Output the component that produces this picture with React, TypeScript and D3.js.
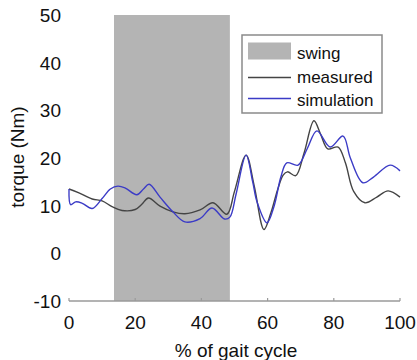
import React from "react";
import * as d3 from "d3";

const xTicks = [0, 20, 40, 60, 80, 100];
const yTicks = [-10, 0, 10, 20, 30, 40, 50];
const swingRange = [13.6, 48.6];

const measuredX = [0, 3, 7, 10, 13, 16, 20, 22, 24, 27.5, 31.4, 35, 39.6, 43.5, 47.7, 50, 53.5, 56, 58.9, 61, 63, 64.7, 66, 68.5, 71, 74, 76, 78.2, 81.3, 83.5, 86, 89.4, 93, 96.4, 100];
const measuredY = [13.5, 12.7, 11.4, 11.0, 9.8, 9.0, 9.2, 10.3, 11.6, 9.9, 8.7, 8.3, 9.1, 10.6, 8.2, 13, 20.6, 14, 5.0, 8.5, 13.3, 16.4, 17.1, 16.3, 21, 27.8, 25, 21.9, 22.3, 19, 13, 10.6, 11.8, 13.1, 11.8];

const simX = [0, 0.5, 2, 4, 7, 10, 12.5, 14.8, 17, 20.5, 22.5, 24.2, 27.5, 31.4, 35, 39.6, 43.2, 47, 48.6, 50.5, 53.5, 55.5, 56.8, 59.8, 62, 64, 65.8, 69.2, 72, 74.9, 78.9, 82.8, 85, 88.8, 92, 97, 100];
const simY = [13.5, 10.2, 10.8, 10.5, 9.4, 11.5, 13.5, 14.1, 13.7, 12.3, 13.5, 14.5, 11.8, 8.7, 6.6, 7.3, 9.5, 7.2, 7.6, 12.5, 20.6, 15, 10.8, 6.4, 10, 16, 19, 18.5, 22, 25.7, 22.3, 24.6, 20, 14.8, 16, 18.5, 17.3];

const legendLabels = ["swing", "measured", "simulation"];

export default function App() {
  const W = 417, H = 360;
  const x = d3.scaleLinear().domain([0, 100]).range([69, 400]);
  const y = d3.scaleLinear().domain([-10, 50]).range([301, 15]);
  const line = d3
    .line<[number, number]>()
    .x((d) => x(d[0]))
    .y((d) => y(d[1]))
    .curve(d3.curveCatmullRom.alpha(0.5));
  const mPts = measuredX.map((v, i) => [v, measuredY[i]] as [number, number]);
  const sPts = simX.map((v, i) => [v, simY[i]] as [number, number]);
  const font = "Liberation Sans, Arial, sans-serif";
  const gray = "#444444";
  const blue = "#3b3bc6";
  return (
    <svg width={W} height={H} style={{ position: "absolute", left: 0, top: 0 }} fontFamily={font}>
      <rect x={0} y={0} width={W} height={H} fill="#fff" />
      <rect
        x={x(swingRange[0])}
        y={y(50)}
        width={x(swingRange[1]) - x(swingRange[0])}
        height={y(-10) - y(50)}
        fill="#b4b4b4"
      />
      <line x1={x(0)} x2={x(100)} y1={y(-10)} y2={y(-10)} stroke="#9a9a9a" strokeWidth={1.5} />
      {xTicks.map((t) => (
        <g key={t}>
          <line x1={x(t)} x2={x(t)} y1={y(-10)} y2={y(-10) - 3} stroke="#9a9a9a" strokeWidth={1.2} />
          <text x={x(t)} y={329} textAnchor="middle" fontSize={19} fill="#111">
            {t}
          </text>
        </g>
      ))}
      {yTicks.map((t) => (
        <text key={t} x={61} y={y(t) + 7} textAnchor="end" fontSize={19} fill="#111">
          {t}
        </text>
      ))}
      <text x={236} y={357} textAnchor="middle" fontSize={19} fill="#111">
        % of gait cycle
      </text>
      <text
        transform={`translate(24,157) rotate(-90)`}
        textAnchor="middle"
        fontSize={19}
        fill="#111"
      >
        torque (Nm)
      </text>
      <path d={line(mPts) || ""} fill="none" stroke={gray} strokeWidth={1.4} />
      <path d={line(sPts) || ""} fill="none" stroke={blue} strokeWidth={1.4} />
      <g>
        <rect x={242} y={35} width={140} height={78} fill="#fff" stroke="#8a8a8a" strokeWidth={1.5} />
        <rect x={248} y={42.5} width={43} height={17} fill="#b4b4b4" />
        <line x1={248} x2={291} y1={77.5} y2={77.5} stroke={gray} strokeWidth={1.4} />
        <line x1={248} x2={291} y1={98.5} y2={98.5} stroke={blue} strokeWidth={1.4} />
        {legendLabels.map((l, i) => (
          <text key={l} x={297} y={59 + i * 23.5} fontSize={17} fill="#111">
            {l}
          </text>
        ))}
      </g>
    </svg>
  );
}
